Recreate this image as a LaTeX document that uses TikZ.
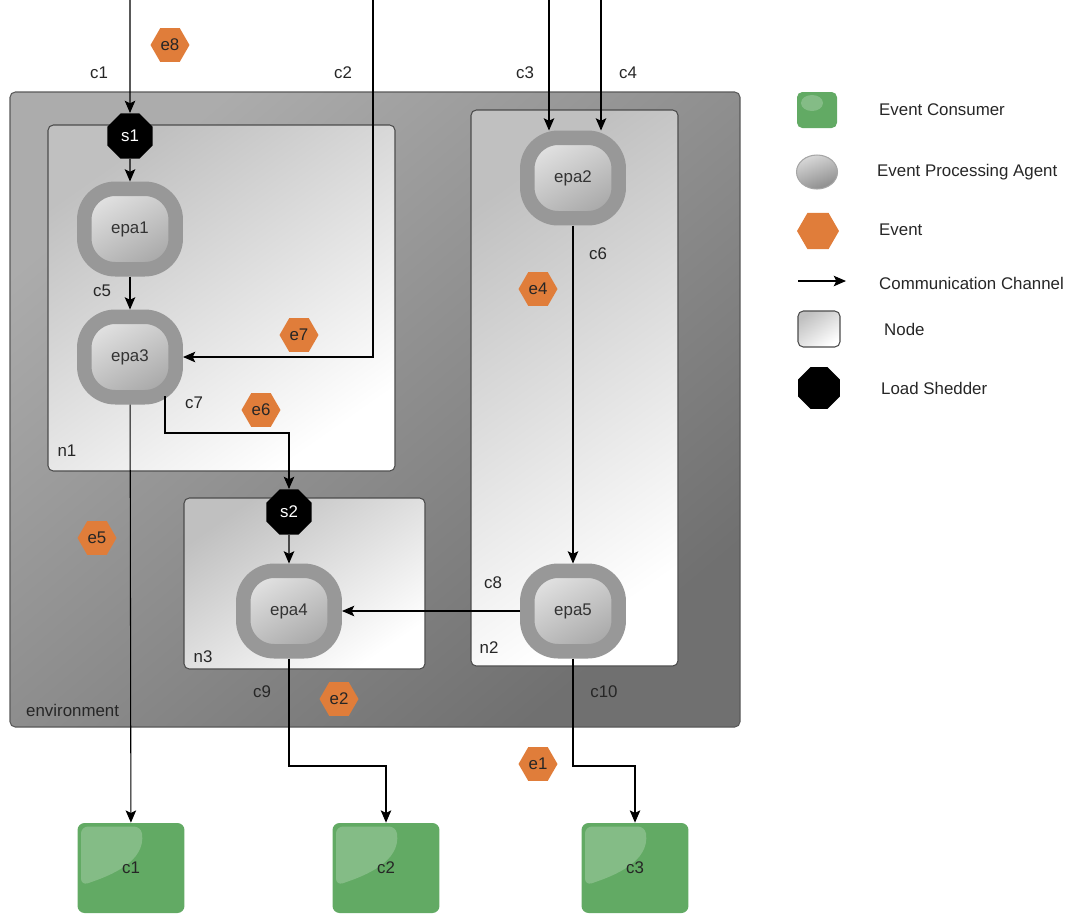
\documentclass[tikz,border=0pt]{standalone}
\usepackage{fontspec}
\setmainfont{Liberation Sans}
\usetikzlibrary{arrows.meta,positioning,shapes.geometric}
\definecolor{envlight}{RGB}{172,172,172}
\definecolor{envdark}{RGB}{112,112,112}
\definecolor{boxgray}{RGB}{192,192,192}
\definecolor{eparing}{RGB}{152,152,152}
\definecolor{epalight}{RGB}{226,226,226}
\definecolor{epadark}{RGB}{168,168,168}
\definecolor{evorange}{RGB}{224,125,58}
\definecolor{consgreen}{RGB}{98,170,100}

\begin{document}
\begin{tikzpicture}[
  x=0.02cm, y=-0.02cm,
  font=\fontsize{9.6}{11.5}\selectfont,
  chan/.style={-{Stealth[length=7pt,width=6pt,inset=1.5pt]}, line width=0.6pt},
  envbox/.style={draw=black!65, line width=0.6pt, rounded corners=3pt, top color=envlight, bottom color=envdark, shading angle=40},
  nodebox/.style={draw=black!70, line width=0.6pt, rounded corners=3pt, top color=boxgray, bottom color=white, shading angle=35},
  epa/.style={draw=eparing, line width=0.29cm, rounded corners=0.62cm, top color=epalight, bottom color=epadark, shading angle=30, minimum width=1.83cm, minimum height=1.61cm, inner sep=0pt, text=black!80},
  shedder/.style={regular polygon, regular polygon sides=8, fill=black, text=white, minimum size=0.98cm, inner sep=0pt},
  event/.style={regular polygon, regular polygon sides=6, fill=evorange, minimum size=0.78cm, inner sep=0pt, text=black!85},
  consumer/.style={fill=consgreen, rounded corners=4pt, minimum width=2.14cm, minimum height=1.8cm, inner sep=0pt, text=black!85,
    path picture={\fill[white, opacity=.22, rounded corners=4pt]
      ([shift={(0.07cm,-0.07cm)}]path picture bounding box.north west) -- ++(1.2cm,0)
      .. controls +(0.1cm,-0.7cm) and +(0.6cm,0.2cm) .. ([shift={(0.07cm,-1.25cm)}]path picture bounding box.north west) -- cycle;}},
  lbl/.style={text=black!85},
  legtext/.style={anchor=west, text=black!85},
]
% frame
\useasboundingbox (0,0) rectangle (1082,914);

% containers
\draw[envbox] (10,92) rectangle (740,727);
\draw[nodebox] (48,125) rectangle (395,471);
\draw[nodebox] (471,110) rectangle (678,666);
\draw[nodebox] (184,498) rectangle (425,669);
\node[lbl, anchor=west] (envlbl) at (20,710) {environment};
\node[lbl] (n1lbl) at (67,451) {n1};
\node[lbl] (n2lbl) at (489,648) {n2};
\node[lbl] (n3lbl) at (203,657) {n3};

% agents and shedders
\node[shedder] (s1) at (130,136) {s1};
\node[shedder] (s2) at (289,512) {s2};
\node[epa] (epa1) at (130,229) {epa1};
\node[epa] (epa3) at (130,357) {epa3};
\node[epa] (epa2) at (573,178) {epa2};
\node[epa] (epa4) at (289,611) {epa4};
\node[epa] (epa5) at (573,611) {epa5};

% consumers
\node[consumer] (c1) at (131,868) {c1};
\node[consumer] (c2) at (386,868) {c2};
\node[consumer] (c3) at (635,868) {c3};

% events
\node[event] (e8) at (170,45) {e8};
\node[event] (e7) at (299,335) {e7};
\node[event] (e6) at (261,410) {e6};
\node[event] (e5) at (97,538) {e5};
\node[event] (e4) at (538,289) {e4};
\node[event] (e2) at (339,699) {e2};
\node[event] (e1) at (538,764) {e1};

% channels
\coordinate (in1) at (130,0);
\coordinate (in2) at (373,0);
\coordinate (in3) at (549,0);
\coordinate (in4) at (601,0);
\coordinate (c7s) at (165,396);
\draw[chan] (in1) -- (s1);
\draw[chan] (s1) -- (epa1);
\draw[chan] (epa1) -- (epa3);
\draw[chan] (in2) |- (epa3.east);
\draw[chan] (in3) -- (in3 |- epa2.north);
\draw[chan] (in4) -- (in4 |- epa2.north);
\draw[chan] (epa2) -- (epa5);
\draw[chan] (c7s) -- (165,433) -| (s2.north);
\draw[chan] (s2) -- (epa4);
\draw[chan] (epa5.west) -- (epa4.east);
\draw[chan] (epa3) -- (c1);
\draw[chan] (epa4.south) -- (289,766) -| (c2.north);
\draw[chan] (epa5.south) -- (573,766) -| (c3.north);

% channel names
\node[lbl] (lc1) at (99,73) {c1};
\node[lbl] (lc2) at (343,73) {c2};
\node[lbl] (lc3) at (525,73) {c3};
\node[lbl] (lc4) at (628,73) {c4};
\node[lbl] (lc5) at (102,291) {c5};
\node[lbl] (lc6) at (598,254) {c6};
\node[lbl] (lc7) at (194,403) {c7};
\node[lbl] (lc8) at (493,583) {c8};
\node[lbl] (lc9) at (262,692) {c9};
\node[lbl] (lc10) at (604,692) {c10};

% legend
\node[consumer, rounded corners=3pt, minimum width=0.8cm, minimum height=0.72cm, path picture={\fill[white, opacity=.22] ([shift={(0.3cm,-0.22cm)}]path picture bounding box.north west) ellipse (0.22cm and 0.16cm);}] (kcons) at (817,110) {};
\node[ellipse, draw=black!35, line width=0.6pt, top color=black!15, bottom color=black!45, shading angle=20, minimum width=0.82cm, minimum height=0.68cm] (kepa) at (817,172) {};
\node[event, minimum size=0.84cm] (kevent) at (818,231) {};
\coordinate (karrs) at (798,281);
\coordinate (karre) at (846,281);
\draw[chan] (karrs) -- (karre);
\node[draw=black!70, line width=0.6pt, rounded corners=3pt, top color=boxgray, bottom color=white, shading angle=35, minimum width=0.84cm, minimum height=0.72cm] (knode) at (819,329) {};
\node[shedder, minimum size=0.9cm] (kshed) at (819,388) {};
\node[legtext] (tcons) at (873,110) {Event Consumer};
\node[legtext] (tepa) at (871,172) {Event Processing Agent};
\node[legtext] (tevent) at (873,230) {Event};
\node[legtext] (tchan) at (873,283) {Communication Channel};
\node[legtext] (tnode) at (878,329) {Node};
\node[legtext] (tshed) at (875,388) {Load Shedder};
\end{tikzpicture}
\end{document}
